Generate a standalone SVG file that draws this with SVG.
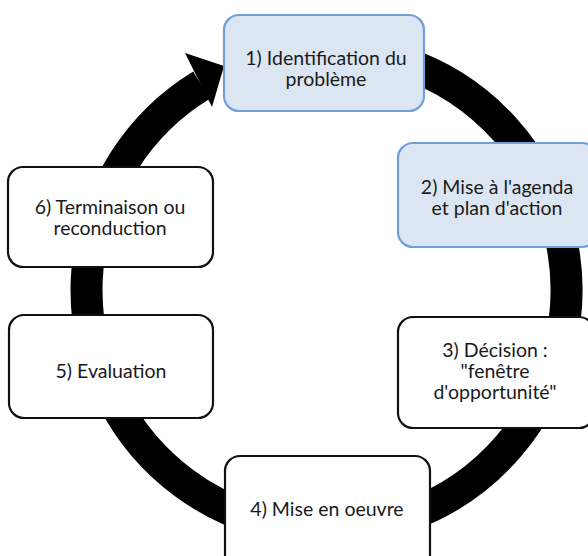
<svg xmlns="http://www.w3.org/2000/svg" width="588" height="556" viewBox="0 0 588 556">
  <style>
    .box { fill: #ffffff; stroke: #111111; stroke-width: 2.2; }
    .box.hl { fill: #dce6f2; stroke: #6f9fd6; }
    .label { font-family: Lato, "Open Sans", "Liberation Sans", sans-serif; font-size: 19.5px; fill: #1a1a1a; text-anchor: middle; }
    .ring { fill: none; stroke: #000000; stroke-width: 32; }
  </style>
  <rect width="588" height="556" fill="#ffffff"/>

  <!-- cycle ring with arrowhead pointing into step 1 -->
  <g id="connectors">
    <path class="ring" d="M 293.1 52.3 A 240 240 0 1 1 201.5 85.1"/>
    <polygon points="185,53 224,66 212,107" fill="#000000"/>
  </g>

  <g id="step1">
    <rect class="box hl" x="224" y="15" width="200" height="96" rx="15"/>
    <text class="label" x="326" y="65">1) Identification du</text>
    <text class="label" x="326" y="86">problème</text>
  </g>

  <g id="step2">
    <rect class="box hl" x="398" y="143" width="199" height="104" rx="15"/>
    <text class="label" x="497" y="194">2) Mise à l'agenda</text>
    <text class="label" x="497" y="215">et plan d'action</text>
  </g>

  <g id="step3">
    <rect class="box" x="398" y="317" width="196" height="111" rx="15"/>
    <text class="label" x="495" y="357">3) Décision :</text>
    <text class="label" x="495" y="378">"fenêtre</text>
    <text class="label" x="495" y="399">d'opportunité"</text>
  </g>

  <g id="step4">
    <rect class="box" x="225" y="456" width="205" height="115" rx="15"/>
    <text class="label" x="327" y="516">4) Mise en oeuvre</text>
  </g>

  <g id="step5">
    <rect class="box" x="9" y="315" width="204" height="103" rx="15"/>
    <text class="label" x="111" y="378">5) Evaluation</text>
  </g>

  <g id="step6">
    <rect class="box" x="8" y="167" width="205" height="100" rx="15"/>
    <text class="label" x="110" y="214">6) Terminaison ou</text>
    <text class="label" x="110" y="235">reconduction</text>
  </g>
</svg>
